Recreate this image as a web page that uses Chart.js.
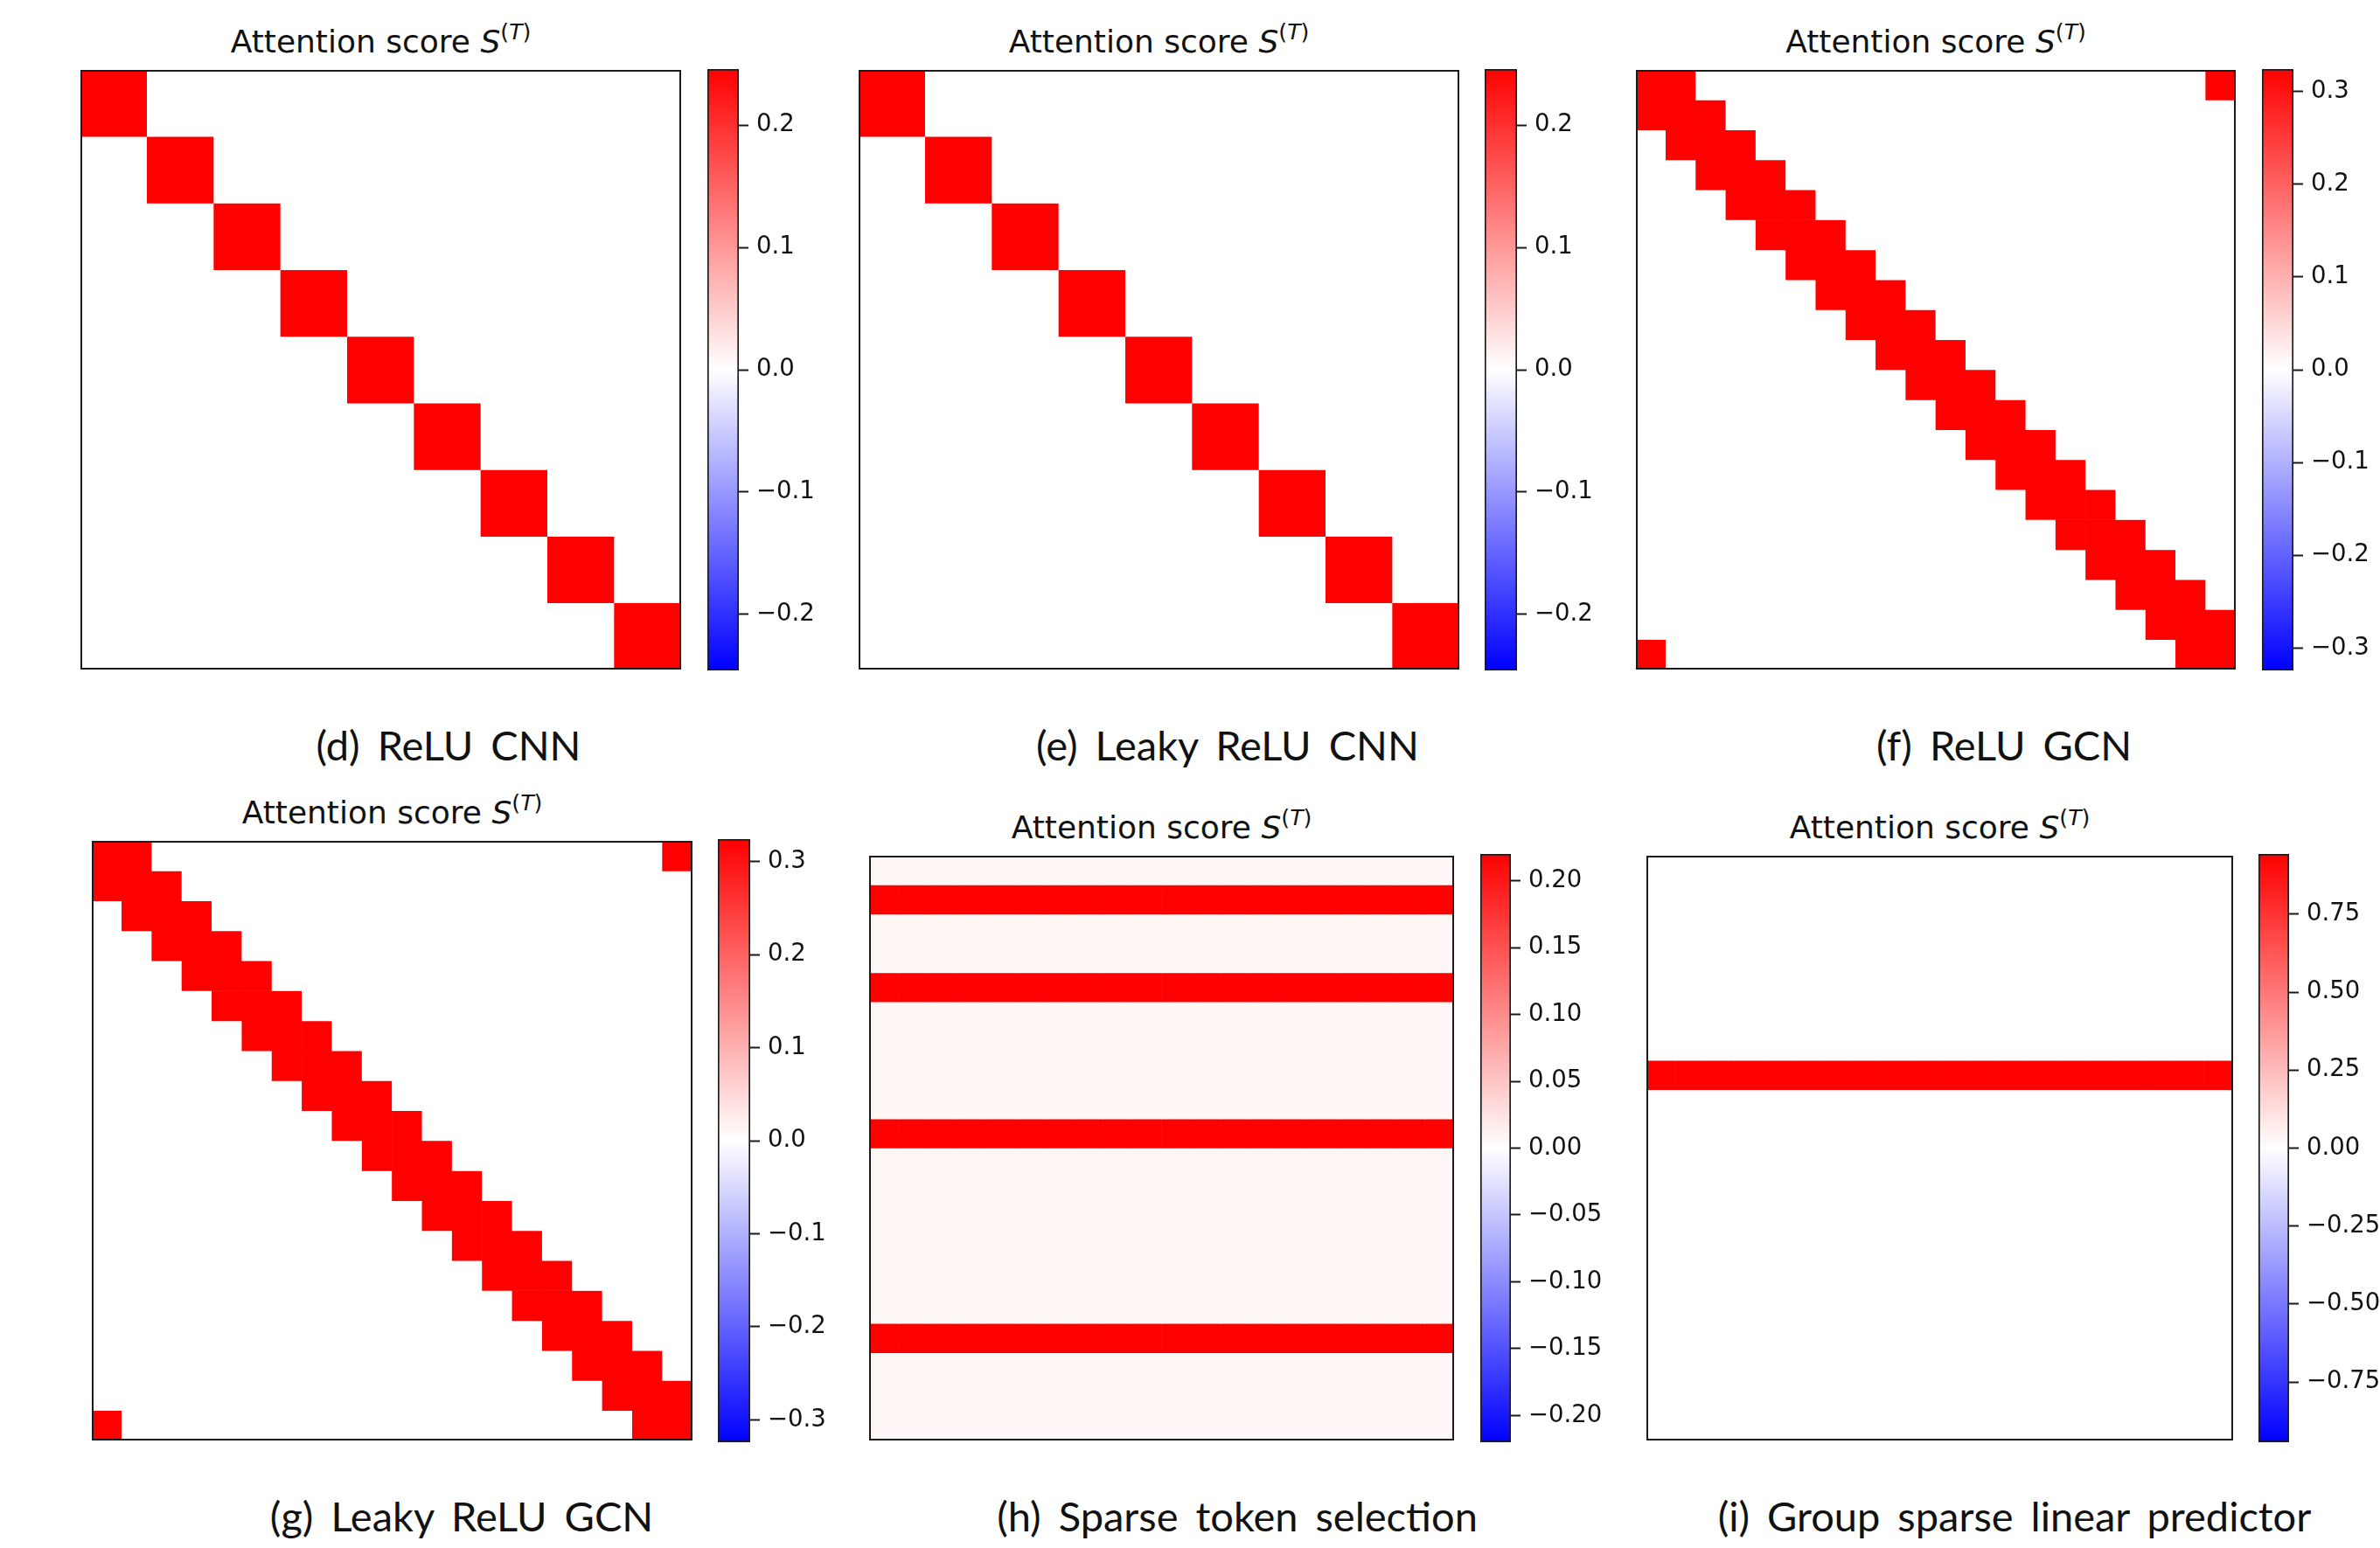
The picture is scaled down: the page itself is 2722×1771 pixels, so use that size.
<!DOCTYPE html>
<html>
<head>
<meta charset="utf-8">
<title>Attention score S(T)</title>
<script src="https://cdn.jsdelivr.net/npm/chart.js@4.4.1/dist/chart.umd.min.js"></script>
<style>
  html, body { margin: 0; padding: 0; background: #fff; }
  body { width: 2722px; height: 1771px; position: relative; overflow: hidden; }
  canvas { position: absolute; }
  .frame { position: absolute; box-sizing: border-box; border: 2px solid #1b1b1b; pointer-events: none; }
  .title { position: absolute; font-family: "DejaVu Sans"; font-size: 36px; color: #111; white-space: nowrap; line-height: 1; transform: translateX(-50%); }
  .title sup { font-size: 70%; line-height: 0; vertical-align: 0.6em; }
  .caption { position: absolute; font-family: Lato; font-size: 47px; color: #111; white-space: nowrap; line-height: 1; transform: translateX(-50%); word-spacing: 8px; }
</style>
</head>
<body>
<script>
// values

// (d), (e): 9 x 9, one red block per row on the diagonal
const cnnRows = [
  "100000000",
  "010000000",
  "001000000",
  "000100000",
  "000010000",
  "000001000",
  "000000100",
  "000000010",
  "000000001"
];
const reluCnnPeak = 0.246;
const leakyCnnPeak = 0.246;
const cnnTicks = [-0.2, -0.1, 0, 0.1, 0.2];

// (f), (g): 20 x 20 band that wraps round the corners
const gcnRows = [
  "11000000000000000001",
  "11100000000000000000",
  "01110000000000000000",
  "00111000000000000000",
  "00011100000000000000",
  "00001110000000000000",
  "00000111000000000000",
  "00000011100000000000",
  "00000001110000000000",
  "00000000111000000000",
  "00000000011100000000",
  "00000000001110000000",
  "00000000000111000000",
  "00000000000011100000",
  "00000000000001110000",
  "00000000000000111000",
  "00000000000000011100",
  "00000000000000001110",
  "00000000000000000111",
  "10000000000000000011"
];
const reluGcnPeak = 0.324;
const leakyGcnPeak = 0.324;
const gcnTicks = [-0.3, -0.2, -0.1, 0, 0.1, 0.2, 0.3];

// (h), (i): every row is constant along the columns
const stripeCols = 20;
const tokenRowValues = [0.008, 0.22, 0.008, 0.008, 0.22, 0.008, 0.008, 0.008, 0.008, 0.22,
                        0.008, 0.008, 0.008, 0.008, 0.008, 0.008, 0.22, 0.008, 0.008, 0.008];
const tokenLimit = 0.22;
const tokenTicks = [-0.2, -0.15, -0.1, -0.05, 0, 0.05, 0.1, 0.15, 0.2];

const groupRowValues = [0, 0, 0, 0, 0, 0, 0, 0.943, 0, 0,
                        0, 0, 0, 0, 0, 0, 0, 0, 0, 0];
const groupLimit = 0.943;
const groupTicks = [-0.75, -0.5, -0.25, 0, 0.25, 0.5, 0.75];

const captions = [
  "(d) ReLU CNN", "(e) Leaky ReLU CNN", "(f) ReLU GCN",
  "(g) Leaky ReLU GCN", "(h) Sparse token selection", "(i) Group sparse linear predictor"
];

Chart.defaults.font.family = "DejaVu Sans";

function fromPattern(rows, peak) {
  return rows.map(r => [...r].map(ch => (ch === "1" ? peak : 0)));
}
function fromRowValues(values, nCols) {
  return values.map(v => Array(nCols).fill(v));
}

// matplotlib "bwr"
function bwr(v, lim) {
  const t = Math.max(-1, Math.min(1, v / lim));
  if (t >= 0) {
    const c = Math.round(255 * (1 - t));
    return `rgb(255,${c},${c})`;
  }
  const c = Math.round(255 * (1 + t));
  return `rgb(${c},${c},255)`;
}

function fmtTick(v, dec) {
  if (Math.abs(v) < 1e-9) return (0).toFixed(dec);
  const s = Math.abs(v).toFixed(dec);
  return v < 0 ? "\u2212" + s : s;
}

function makeCanvas(x, y, w, h) {
  const c = document.createElement("canvas");
  c.width = w; c.height = h;
  c.style.left = x + "px"; c.style.top = y + "px";
  c.style.width = w + "px"; c.style.height = h + "px";
  document.body.appendChild(c);
  return c;
}

function drawHeatmap(box, matrix, lim) {
  const [x0, y0, x1, y1] = box;
  const canvas = makeCanvas(x0, y0, x1 - x0, y1 - y0);
  const nRows = matrix.length;
  const labels = matrix[0].map((_, j) => String(j));
  const datasets = matrix.map(row => ({
    data: row.map(() => 1),
    backgroundColor: row.map(v => bwr(v, lim)),
    borderWidth: 0,
    barPercentage: 1,
    categoryPercentage: 1
  }));
  new Chart(canvas, {
    type: "bar",
    data: { labels, datasets },
    options: {
      responsive: false,
      animation: false,
      devicePixelRatio: 1,
      layout: { padding: 0 },
      plugins: { legend: { display: false }, tooltip: { enabled: false } },
      scales: {
        x: { stacked: true, display: false },
        y: { stacked: true, display: false, min: 0, max: nRows, reverse: true }
      }
    }
  });
  const frame = document.createElement("div");
  frame.className = "frame";
  frame.style.left = x0 + "px"; frame.style.top = y0 + "px";
  frame.style.width = (x1 - x0) + "px"; frame.style.height = (y1 - y0) + "px";
  document.body.appendChild(frame);
}

function drawColorbar(bar, lim, ticks, dec) {
  const [x0, y0, x1, y1] = bar;
  const pad = 20, labelW = 120;
  const canvas = makeCanvas(x0, y0 - pad, (x1 - x0) + labelW, (y1 - y0) + 2 * pad);
  new Chart(canvas, {
    type: "bar",
    data: {
      labels: [""],
      datasets: [{
        data: [[-lim, lim]],
        backgroundColor: ctx => {
          const area = ctx.chart.chartArea;
          if (!area) return "#fff";
          const g = ctx.chart.ctx.createLinearGradient(0, area.bottom, 0, area.top);
          g.addColorStop(0, "#0000ff");
          g.addColorStop(0.5, "#ffffff");
          g.addColorStop(1, "#ff0000");
          return g;
        },
        borderColor: "#1b1b1b",
        borderWidth: 2,
        borderSkipped: false,
        barPercentage: 1,
        categoryPercentage: 1
      }]
    },
    options: {
      responsive: false,
      animation: false,
      devicePixelRatio: 1,
      layout: { padding: { top: pad, bottom: pad, left: 0, right: 0 } },
      plugins: { legend: { display: false }, tooltip: { enabled: false } },
      scales: {
        x: { display: false },
        y: {
          position: "right",
          min: -lim,
          max: lim,
          afterBuildTicks: s => { s.ticks = ticks.map(v => ({ value: v })); },
          afterFit: s => { s.width = labelW; s.paddingTop = 0; s.paddingBottom = 0; },
          border: { display: false },
          grid: { drawOnChartArea: false, drawTicks: true, tickLength: 11, tickWidth: 2, tickColor: "#1b1b1b" },
          ticks: {
            padding: 9,
            color: "#111",
            font: { size: 27.5 },
            callback: v => fmtTick(v, dec)
          }
        }
      }
    }
  });
}

function addTitle(cx, baseline) {
  const d = document.createElement("div");
  d.className = "title";
  d.innerHTML = 'Attention score <i>S</i><sup>(<i>T</i>)</sup>';
  d.style.left = cx + "px";
  d.style.top = (baseline - 0.846 * 36) + "px";
  document.body.appendChild(d);
}

function addCaption(text, cx, baseline) {
  const d = document.createElement("div");
  d.className = "caption";
  d.textContent = text;
  d.style.left = cx + "px";
  d.style.top = (baseline - 0.887 * 47) + "px";
  document.body.appendChild(d);
}

const panels = [
  { matrix: fromPattern(cnnRows, reluCnnPeak), lim: reluCnnPeak, ticks: cnnTicks, dec: 1,
    box: [92, 80, 779, 766], bar: [809, 79, 845, 767], titleY: 60, capX: 513, capY: 871 },
  { matrix: fromPattern(cnnRows, leakyCnnPeak), lim: leakyCnnPeak, ticks: cnnTicks, dec: 1,
    box: [982, 80, 1669, 766], bar: [1698, 79, 1735, 767], titleY: 60, capX: 1404, capY: 871 },
  { matrix: fromPattern(gcnRows, reluGcnPeak), lim: reluGcnPeak, ticks: gcnTicks, dec: 1,
    box: [1871, 80, 2557, 766], bar: [2587, 79, 2623, 767], titleY: 60, capX: 2292, capY: 871 },
  { matrix: fromPattern(gcnRows, leakyGcnPeak), lim: leakyGcnPeak, ticks: gcnTicks, dec: 1,
    box: [105, 962, 792, 1648], bar: [821, 960, 858, 1650], titleY: 942, capX: 528, capY: 1753 },
  { matrix: fromRowValues(tokenRowValues, stripeCols), lim: tokenLimit, ticks: tokenTicks, dec: 2,
    box: [994, 979, 1663, 1648], bar: [1693, 977, 1728, 1650], titleY: 959, capX: 1415, capY: 1753 },
  { matrix: fromRowValues(groupRowValues, stripeCols), lim: groupLimit, ticks: groupTicks, dec: 2,
    box: [1883, 979, 2554, 1648], bar: [2583, 977, 2618, 1650], titleY: 959, capX: 2304, capY: 1753 }
];

panels.forEach((p, i) => {
  drawHeatmap(p.box, p.matrix, p.lim);
  drawColorbar(p.bar, p.lim, p.ticks, p.dec);
  addTitle((p.box[0] + p.box[2]) / 2, p.titleY);
  addCaption(captions[i], p.capX, p.capY);
});
</script>
</body>
</html>
